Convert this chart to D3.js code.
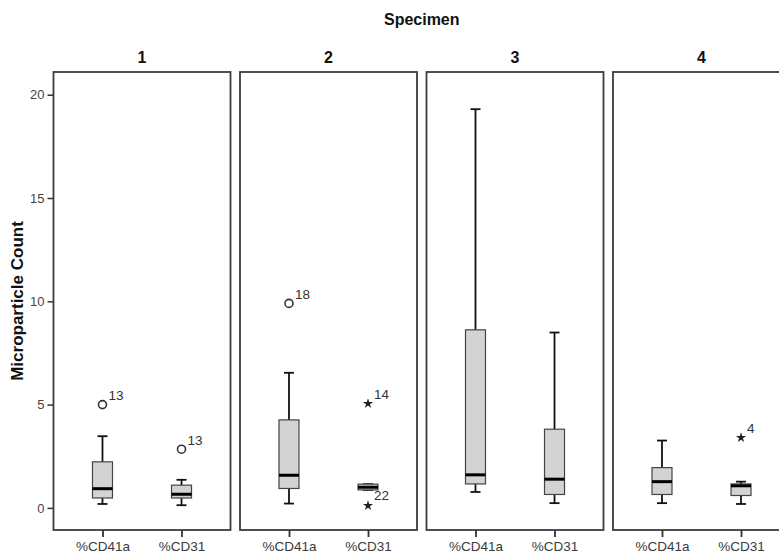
<!DOCTYPE html>
<html>
<head>
<meta charset="utf-8">
<script src="https://cdn.jsdelivr.net/npm/d3@7"></script>
<style>
  html, body { margin: 0; padding: 0; background: #fff; }
  svg { display: block; font-family: "Liberation Sans", Arial, sans-serif; }
</style>
</head>
<body>
<svg id="chart" width="779" height="558"></svg>
<script>
// Panels (specimens) and the two markers measured in each
const specimens = ["1", "2", "3", "4"];
const markers = ["%CD41a", "%CD31"];
const yTicks = [0, 5, 10, 15, 20];

// Box statistics, ordered specimen by specimen: [%CD41a, %CD31]
const whiskerLow  = [0.19, 0.13,  0.21, 0.87,  0.77, 0.23,  0.23, 0.19];
const quartile1   = [0.48, 0.48,  0.94, 0.87,  1.16, 0.65,  0.65, 0.60];
const medians     = [0.93, 0.66,  1.58, 1.00,  1.60, 1.39,  1.27, 1.07];
const quartile3   = [2.23, 1.10,  4.26, 1.15,  8.62, 3.81,  1.95, 1.16];
const whiskerHigh = [3.47, 1.36,  6.54, 1.15, 19.30, 8.49,  3.26, 1.27];

// Outlying cases: specimen, marker, value, case label, kind
const outSpecimen = ["1", "1", "2", "2", "2", "4"];
const outMarker   = ["%CD41a", "%CD31", "%CD41a", "%CD31", "%CD31", "%CD31"];
const outValue    = [5.0, 2.84, 9.9, 5.05, 0.11, 3.4];
const outCase     = ["13", "13", "18", "14", "22", "4"];
const outKind     = ["circle", "circle", "circle", "star", "star", "star"];

const boxes = [];
specimens.forEach((s, i) => markers.forEach((m, j) => {
  const k = i * markers.length + j;
  boxes.push({ specimen: s, marker: m, lo: whiskerLow[k], q1: quartile1[k],
               med: medians[k], q3: quartile3[k], hi: whiskerHigh[k] });
}));
const outliers = outValue.map((v, i) => ({ specimen: outSpecimen[i], marker: outMarker[i],
  value: v, label: outCase[i], kind: outKind[i] }));

const svg = d3.select("#chart");
const plotTop = 72, plotBottom = 530, plotLeft = 53.5, panelW = 177, gap = 9.5;

const y = d3.scaleLinear().domain([-1.07, 21.1]).range([plotBottom, plotTop]);
const panelX = d3.scaleBand().domain(specimens)
  .range([plotLeft, plotLeft + specimens.length * panelW + (specimens.length - 1) * gap])
  .paddingInner(gap / (panelW + gap)).paddingOuter(0);
const x = d3.scalePoint().domain(markers).range([0, panelW]).padding(0.62);

const boxW = 20, capW = 10;
const ink = "#333";

// Overall title
svg.append("text")
  .attr("x", (panelX.range()[0] + panelX.range()[1]) / 2).attr("y", 25)
  .attr("text-anchor", "middle").attr("font-weight", "bold").attr("font-size", 16)
  .attr("fill", "#111").text("Specimen");

// Y axis title
svg.append("text")
  .attr("transform", `translate(23,${(plotTop + plotBottom) / 2}) rotate(-90)`)
  .attr("text-anchor", "middle").attr("font-weight", "bold").attr("font-size", 17)
  .attr("fill", "#111").text("Microparticle Count");

// Y axis
const yAxis = svg.append("g").attr("transform", `translate(${plotLeft},0)`)
  .call(d3.axisLeft(y).tickValues(yTicks).tickSize(6).tickPadding(3).tickFormat(d3.format("d")));
yAxis.select(".domain").remove();
yAxis.selectAll(".tick line").attr("stroke", ink).attr("stroke-width", 1.5);
yAxis.selectAll(".tick text").attr("font-size", 13).attr("fill", "#444")
  .attr("font-family", "\"Liberation Sans\", Arial, sans-serif");

const panels = svg.selectAll("g.panel").data(specimens).join("g")
  .attr("class", "panel")
  .attr("transform", d => `translate(${panelX(d)},0)`);

// Panel titles
panels.append("text")
  .attr("x", panelW / 2).attr("y", 63)
  .attr("text-anchor", "middle").attr("font-weight", "bold").attr("font-size", 16)
  .attr("fill", "#111").text(d => d);

// Panel frames
panels.append("rect")
  .attr("x", 0).attr("y", plotTop).attr("width", panelW).attr("height", plotBottom - plotTop)
  .attr("fill", "none").attr("stroke", "#3c3c3c").attr("stroke-width", 1.8);

// Category axis under each panel
panels.each(function () {
  const g = d3.select(this).append("g").attr("transform", `translate(0,${plotBottom})`)
    .call(d3.axisBottom(x).tickSize(7).tickPadding(4));
  g.select(".domain").remove();
  g.selectAll(".tick line").attr("stroke", ink).attr("stroke-width", 1.8);
  g.selectAll(".tick text").attr("font-size", 13.5).attr("fill", "#3a3a3a")
    .attr("font-family", "\"Liberation Sans\", Arial, sans-serif");
});

// Box plots
panels.each(function (s) {
  const g = d3.select(this);
  const data = boxes.filter(b => b.specimen === s);
  const bg = g.selectAll("g.box").data(data).join("g").attr("class", "box")
    .attr("transform", d => `translate(${x(d.marker)},0)`);

  // whisker stems
  bg.append("line").attr("x1", 0).attr("x2", 0)
    .attr("y1", d => y(d.hi)).attr("y2", d => y(d.q3))
    .attr("stroke", "#111").attr("stroke-width", 1.8);
  bg.append("line").attr("x1", 0).attr("x2", 0)
    .attr("y1", d => y(d.q1)).attr("y2", d => y(d.lo))
    .attr("stroke", "#111").attr("stroke-width", 1.8);
  // caps
  bg.append("line").attr("x1", -capW / 2).attr("x2", capW / 2)
    .attr("y1", d => y(d.hi)).attr("y2", d => y(d.hi))
    .attr("stroke", "#111").attr("stroke-width", 1.8);
  bg.append("line").attr("x1", -capW / 2).attr("x2", capW / 2)
    .attr("y1", d => y(d.lo)).attr("y2", d => y(d.lo))
    .attr("stroke", "#111").attr("stroke-width", 1.8);
  // box
  bg.append("rect").attr("x", -boxW / 2).attr("width", boxW)
    .attr("y", d => y(d.q3)).attr("height", d => Math.max(0, y(d.q1) - y(d.q3)))
    .attr("fill", "#d3d3d3").attr("stroke", "#444").attr("stroke-width", 1.2);
  // median
  bg.append("line").attr("x1", -boxW / 2).attr("x2", boxW / 2)
    .attr("y1", d => y(d.med)).attr("y2", d => y(d.med))
    .attr("stroke", "#000").attr("stroke-width", 3);

  // outliers
  const od = outliers.filter(o => o.specimen === s);
  const og = g.selectAll("g.out").data(od).join("g").attr("class", "out")
    .attr("transform", d => `translate(${x(d.marker)},${y(d.value)})`);
  og.filter(d => d.kind === "circle").append("circle")
    .attr("r", 4).attr("fill", "none").attr("stroke", "#333").attr("stroke-width", 1.6);
  og.filter(d => d.kind === "star").append("path")
    .attr("d", d3.symbol().type(d3.symbolStar).size(32))
    .attr("fill", "#222");
  og.append("text")
    .attr("x", 6).attr("y", d => d.label === "22" ? -6 : -9)
    .attr("dy", d => d.label === "22" ? "0" : "0.35em")
    .attr("font-size", 13.5).attr("fill", "#333").text(d => d.label);
});
</script>
</body>
</html>
